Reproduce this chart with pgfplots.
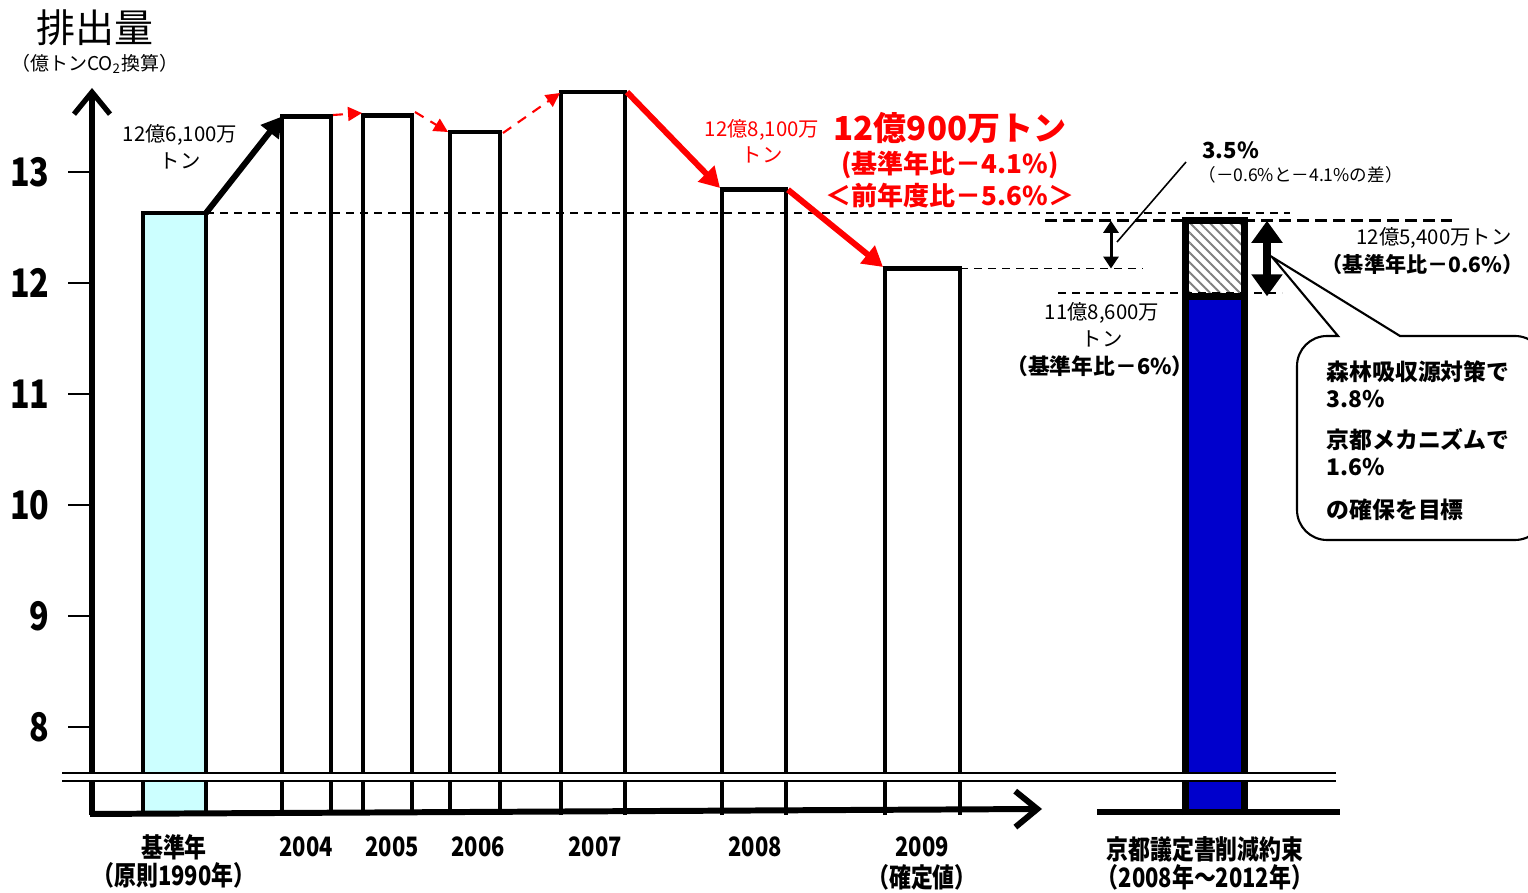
\documentclass[border=0pt]{standalone}
\usepackage{pgfplots}
\pgfplotsset{compat=1.18}
\usepackage{fontspec}
\setmainfont{Noto Sans CJK JP}
\newfontfamily\cond[FakeStretch=0.82]{Noto Sans CJK JP}
\usetikzlibrary{arrows.meta,patterns.meta}
\definecolor{baseCyan}{HTML}{CCFFFF}
\definecolor{kyotoBlue}{HTML}{0000CC}
\definecolor{jpRed}{HTML}{FF0000}
% pixel row of the reference -> value on the y axis
\pgfmathdeclarefunction{py}{1}{\pgfmathparse{13-(#1-172)/111}}
\newcommand{\fs}[1]{\fontsize{#1}{#1}\selectfont}
\begin{document}
\begin{tikzpicture}
\begin{axis}[
    at={(9.2mm,7.7mm)}, anchor=south west,
    scale only axis, width=143.6mm, height=72.7mm,
    xmin=92, xmax=1528, ymin=7.207, ymax=13.757,
    axis x line=none, axis y line=left,
    y axis line style={line width=1.5pt, -{Straight Barb[length=2.2mm,width=3.6mm]}},
    ytick={8,9,10,11,12,13},
    tick align=outside, major tick length=2.4mm,
    ytick style={line width=0.45pt, black},
    yticklabel style={font=\cond\bfseries\fs{11.2}, xshift=-0.6mm},
    /pgf/number format/assume math mode=true,
    clip=false,
]
% bars (value in units of 100 million t CO2)
\addplot[draw=black, line width=1.35pt, fill=baseCyan] coordinates {(143,7.207) (143,12.63) (206,12.63) (206,7.207)};
\addplot[draw=black, line width=1.35pt, fill=white] coordinates {(282,7.207) (282,13.50) (331,13.50) (331,7.207)};
\addplot[draw=black, line width=1.35pt, fill=white] coordinates {(363,7.207) (363,13.51) (412,13.51) (412,7.207)};
\addplot[draw=black, line width=1.35pt, fill=white] coordinates {(450,7.207) (450,13.36) (500,13.36) (500,7.207)};
\addplot[draw=black, line width=1.35pt, fill=white] coordinates {(561,7.207) (561,13.72) (625,13.72) (625,7.207)};
\addplot[draw=black, line width=1.35pt, fill=white] coordinates {(722,7.207) (722,12.84) (786,12.84) (786,7.207)};
\addplot[draw=black, line width=1.35pt, fill=white] coordinates {(885,7.207) (885,12.13) (960,12.13) (960,7.207)};
% Kyoto commitment
\addplot[draw=black, line width=2pt, fill=kyotoBlue] coordinates {(1185,7.207) (1185,11.88) (1244,11.88) (1244,7.207)};
\addplot[draw=black, line width=2pt, pattern={Lines[angle=-45,distance=2pt,line width=0.55pt]}, pattern color=gray] coordinates {(1185,11.88) (1185,12.56) (1244,12.56) (1244,11.88) (1185,11.88)};

% reference lines
\draw[line width=0.45pt, dash pattern=on 0.8mm off 0.6mm] (axis cs:206,12.63) -- (axis cs:1290,12.63);
\draw[line width=0.9pt, dash pattern=on 1.2mm off 0.6mm] (axis cs:1045,12.56) -- (axis cs:1452,12.56);
\draw[line width=0.45pt, dash pattern=on 0.8mm off 0.6mm] (axis cs:960,12.13) -- (axis cs:1143,12.13);
\draw[line width=0.45pt, dash pattern=on 0.8mm off 0.6mm] (axis cs:1058,11.91) -- (axis cs:1282,11.91);

% trend arrows
\draw[line width=1.7pt, -{Triangle[length=2mm,width=2.2mm]}] (axis cs:206,12.63) -- (axis cs:282,13.50);
\draw[jpRed, line width=0.6pt, dash pattern=on 1mm off 0.8mm, -{Triangle[length=1.4mm,width=1.4mm]}] (axis cs:333,{py(115)}) -- (axis cs:362,{py(113)});
\draw[jpRed, line width=0.6pt, dash pattern=on 1mm off 0.8mm, -{Triangle[length=1.4mm,width=1.4mm]}] (axis cs:415,{py(112)}) -- (axis cs:448,{py(132)});
\draw[jpRed, line width=0.6pt, dash pattern=on 1mm off 0.8mm, -{Triangle[length=1.4mm,width=1.4mm]}] (axis cs:503,{py(133)}) -- (axis cs:560,{py(93)});
\draw[jpRed, line width=1.7pt, -{Triangle[length=2mm,width=2.2mm]}] (axis cs:627,13.72) -- (axis cs:720,{py(188)});
\draw[jpRed, line width=1.7pt, -{Triangle[length=2mm,width=2.2mm]}] (axis cs:788,12.84) -- (axis cs:883,{py(267)});

% gap arrows
\draw[line width=0.85pt, {Triangle[length=1.2mm,width=1.5mm]}-{Triangle[length=1.2mm,width=1.5mm]}] (axis cs:1111,12.56) -- (axis cs:1111,12.13);
\draw[line width=0.45pt] (axis cs:1117,{py(242)}) -- (axis cs:1186,{py(162)});
\draw[line width=2.3pt, {Triangle[length=2.2mm,width=3mm]}-{Triangle[length=2.2mm,width=3mm]}] (axis cs:1267,12.56) -- (axis cs:1267,11.88);

% callout
\draw[line width=0.6pt, fill=white] (axis cs:1338,{py(336)}) -- (axis cs:1272,{py(257)}) -- (axis cs:1400,{py(336)})
  [rounded corners=3mm] -- (axis cs:1545,{py(336)}) -- (axis cs:1545,{py(540)}) -- (axis cs:1297,{py(540)}) -- (axis cs:1297,{py(336)}) [sharp corners] -- cycle;
\node[anchor=west, font=\bfseries\fs{6.5}, align=left, inner sep=0pt] at (axis cs:1326,{py(372)}) {森林吸収源対策で};
\node[anchor=west, font=\bfseries\fs{6.5}, inner sep=0pt] at (axis cs:1326,{py(399)}) {3.8\%};
\node[anchor=west, font=\bfseries\fs{6.5}, inner sep=0pt] at (axis cs:1326,{py(440)}) {京都メカニズムで};
\node[anchor=west, font=\bfseries\fs{6.5}, inner sep=0pt] at (axis cs:1326,{py(467)}) {1.6\%};
\node[anchor=west, font=\bfseries\fs{6.5}, inner sep=0pt] at (axis cs:1326,{py(510)}) {の確保を目標};

% axis break
\fill[white] (axis cs:62,{py(773)}) rectangle (axis cs:1336,{py(781)});
\draw[line width=0.45pt] (axis cs:62,{py(773)}) -- (axis cs:1336,{py(773)});
\draw[line width=0.45pt] (axis cs:62,{py(781)}) -- (axis cs:1336,{py(781)});

% x axis
\draw[line width=1.7pt, -{Straight Barb[length=2.2mm,width=3.6mm]}] (axis cs:90,{py(814)}) -- (axis cs:1042,{py(809)});
\draw[line width=1.7pt] (axis cs:1097,{py(812)}) -- (axis cs:1340,{py(812)});

% titles and labels
\node[font=\fs{11.1}] at (axis cs:95,{py(28)}) {排出量};
\node[font=\fs{5.4}] at (axis cs:95,{py(64)}) {（億トンCO\textsubscript{2}換算）};
\node[font=\fs{5.8}] at (axis cs:180,{py(135)}) {12億6,100万};
\node[font=\fs{5.8}] at (axis cs:180,{py(161)}) {トン};
\node[font=\fs{5.8}, text=jpRed] at (axis cs:762,{py(130)}) {12億8,100万};
\node[font=\fs{5.8}, text=jpRed] at (axis cs:762,{py(155)}) {トン};
\node[font=\bfseries\fs{9.4}, text=jpRed] at (axis cs:950,{py(128)}) {12億900万トン};
\node[font=\bfseries\fs{7.4}, text=jpRed] at (axis cs:950,{py(165)}) {(基準年比－4.1\%)};
\node[font=\bfseries\fs{7.4}, text=jpRed] at (axis cs:950,{py(196)}) {＜前年度比－5.6\%＞};
\node[font=\bfseries\fs{6.3}, anchor=west] at (axis cs:1190,{py(150)}) {3.5\%};
\node[font=\fs{5}, anchor=west] at (axis cs:1186,{py(175)}) {（－0.6\%と－4.1\%の差）};
\node[font=\fs{5.8}] at (axis cs:1434,{py(238)}) {12億5,400万トン};
\node[font=\bfseries\fs{6}, anchor=east, inner sep=0pt] at (axis cs:1524,{py(264)}) {（基準年比－0.6\%）};
\node[font=\fs{5.8}] at (axis cs:1102,{py(313)}) {11億8,600万};
\node[font=\fs{5.8}] at (axis cs:1102,{py(339)}) {トン};
\node[font=\bfseries\fs{6.2}] at (axis cs:1100,{py(366)}) {（基準年比－6\%）};

% categories
\node[font=\cond\bfseries\fs{7.6}] at (axis cs:174,{py(847)}) {基準年};
\node[font=\cond\bfseries\fs{7.6}] at (axis cs:174,{py(875)}) {（原則1990年）};
\node[font=\cond\bfseries\fs{7.6}] at (axis cs:306,{py(847)}) {2004};
\node[font=\cond\bfseries\fs{7.6}] at (axis cs:392,{py(847)}) {2005};
\node[font=\cond\bfseries\fs{7.6}] at (axis cs:478,{py(847)}) {2006};
\node[font=\cond\bfseries\fs{7.6}] at (axis cs:595,{py(847)}) {2007};
\node[font=\cond\bfseries\fs{7.6}] at (axis cs:755,{py(847)}) {2008};
\node[font=\cond\bfseries\fs{7.6}] at (axis cs:922,{py(847)}) {2009};
\node[font=\cond\bfseries\fs{7.6}] at (axis cs:922,{py(877)}) {（確定値）};
\node[font=\cond\bfseries\fs{7.6}] at (axis cs:1205,{py(849)}) {京都議定書削減約束};
\node[font=\cond\bfseries\fs{7.6}] at (axis cs:1205,{py(877)}) {（2008年～2012年）};
\end{axis}
\pgfresetboundingbox
\path (0,0) rectangle (152.8mm,89.2mm);
\end{tikzpicture}
\end{document}
